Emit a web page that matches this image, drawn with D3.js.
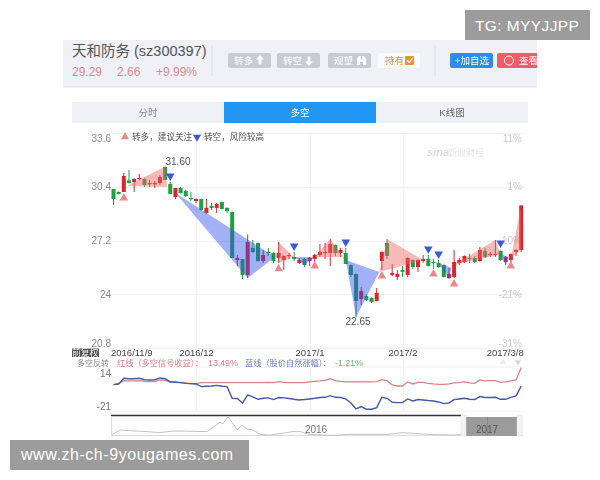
<!DOCTYPE html>
<html><head><meta charset="utf-8">
<script src="https://cdn.jsdelivr.net/npm/d3@7/dist/d3.min.js"></script>
<style>
html,body{margin:0;padding:0;background:#fff}
svg{display:block}
text{font-family:"Liberation Sans","Noto Sans CJK SC",sans-serif}
.soft{filter:blur(0.5px)}
.axis path,.axis line{display:none}
</style></head><body>
<svg id="c" width="600" height="480"></svg>
<script>
const dates=["2016/11/9","2016/12","2017/1","2017/2","2017/3/8"];
const dateIdx=[0,16,38,56,79];
const priceTicks=[33.6,30.4,27.2,24,20.8];
const pctTicks=["11%","1%","-10%","-21%","-31%"];
const open =[30.27,30.09,30.09,30.78,30.68,30.86,30.86,30.57,30.55,30.62,31.58,30.57,29.79,30.33,30.15,29.73,29.55,29.67,28.84,29.26,29.14,29.49,29.14,28.90,26.04,26.10,25.15,26.76,27.05,25.98,26.52,26.46,26.16,26.04,26.28,26.22,25.86,26.10,25.98,26.10,26.34,26.46,26.46,26.93,26.46,26.46,25.74,25.21,23.72,23.90,23.78,23.60,25.98,27.05,25.15,25.03,25.45,25.15,26.04,25.62,25.98,26.10,25.92,25.86,25.74,24.97,25.03,25.86,25.92,26.16,26.16,25.98,26.58,26.34,26.34,26.58,25.92,26.04,26.52,26.64];
const close=[29.67,29.97,31.04,30.62,30.86,30.92,30.51,30.62,30.62,30.98,30.80,29.97,30.33,30.03,29.85,29.67,29.67,29.02,29.14,29.14,29.37,29.08,28.96,26.16,26.16,25.15,27.11,26.52,25.98,26.34,26.46,25.98,26.46,26.28,26.34,26.10,26.04,25.74,26.16,26.34,26.52,26.52,26.99,26.46,26.64,25.80,25.15,23.60,24.20,23.66,23.54,24.08,26.52,26.28,25.27,25.21,25.33,26.16,25.62,26.04,26.10,25.68,25.86,25.62,25.03,25.21,25.92,26.04,26.28,26.10,25.92,26.64,26.22,26.40,26.40,26.04,26.22,26.40,26.64,29.29];
const high =[30.27,30.12,31.22,31.40,30.90,31.16,30.90,30.80,30.74,31.10,31.60,30.68,30.33,30.39,30.21,30.09,29.70,29.70,29.67,29.43,29.43,29.52,29.17,28.93,26.34,26.10,27.56,27.23,27.08,26.64,26.76,26.49,27.11,26.31,26.46,26.52,26.16,26.16,26.22,26.40,26.99,27.05,27.29,26.96,26.76,26.76,25.77,25.24,24.43,24.02,23.81,24.37,26.55,27.29,25.80,25.45,25.68,26.20,26.07,26.07,26.34,26.34,26.10,26.04,25.77,25.57,26.64,26.16,26.31,26.40,26.28,26.81,26.76,26.52,27.23,26.61,26.28,26.43,26.67,29.29];
const low  =[29.32,29.94,30.09,30.60,30.09,30.80,30.39,30.39,30.33,30.51,30.80,29.97,29.67,30.00,29.79,29.55,29.43,29.00,28.80,29.02,28.84,29.05,28.84,26.16,25.68,24.91,24.97,26.46,25.95,25.86,26.28,25.86,25.86,25.45,26.10,25.98,25.80,25.62,25.68,25.92,26.22,26.10,25.68,26.28,26.22,25.80,25.03,22.65,23.36,23.60,23.48,23.57,25.45,26.10,25.09,24.85,25.03,25.03,25.51,25.33,25.86,25.65,25.51,25.57,25.00,24.91,24.97,25.74,25.86,25.86,25.86,25.95,26.16,26.22,26.22,26.00,25.74,25.80,26.28,26.52];
const redLine=[0,1.0,3.1,2.9,2.9,3.1,2.6,2.4,2.6,3.7,3.4,2.1,2.6,1.6,1.3,0.8,0.8,1.6,1.6,1.6,1.6,1.6,1.6,1.6,1.6,1.6,1.6,1.6,1.6,1.6,1.8,1.6,2.4,1.8,1.6,1.6,1.6,1.6,2.1,2.6,2.9,3.4,4.7,3.1,2.6,2.1,2.1,2.1,2.1,2.1,2.1,2.4,3.9,3.1,-0.3,-1.1,-1.1,2.1,0.5,1.8,1.8,1.0,0.5,0.2,0.2,0.5,1.3,1.6,2.1,1.3,1.0,3.7,2.9,3.1,3.1,1.8,2.1,2.9,3.7,13.49];
const blueLine=[0,0.5,5.0,4.7,4.7,5.0,3.9,3.7,3.9,5.3,4.7,2.1,1.8,1.6,1.0,0.8,0.5,-1.6,-1.3,-1.1,-0.6,-1.3,-1.6,-10.9,-11.1,-14.8,-8.2,-9.8,-11.7,-10.9,-10.6,-11.9,-10.3,-10.6,-11.1,-11.7,-12.2,-11.9,-11.4,-10.9,-10.3,-10.1,-8.8,-10.1,-10.3,-11.4,-14.6,-19.3,-17.5,-19.6,-19.6,-18.3,-10.1,-10.9,-14.0,-14.3,-14.3,-11.4,-13.0,-11.9,-12.2,-12.7,-13.0,-13.8,-15.1,-14.6,-11.9,-11.4,-10.9,-11.7,-11.9,-9.5,-10.3,-10.3,-10.1,-11.7,-11.7,-10.1,-9.0,-1.21];
const navDay=[0,8,18,28,48,61,75,95,108,111,116,121,125,130,135,141,148,158,168,181,188,198,221,238,275,291,301,321,341,354,375,400,410];
const navVal=[5,30,27,24,17,25,24,22,68,62,97,60,30,55,35,30,8,5,12,22,22,8,3,8,8,17,13,7,5,7,6,5,8];
const pinkTriangles=[[2.6,30.45,10,31.6,10.4,30.39],[32,27.11,34.9,26.22,32,25.86],[39,26.22,42,27.29,44.5,26.22],[51.5,25.33,53,27.29,60,26.04],[66,25.74,74,27.23,75,26.4],[77,26.16,79,29.29,79,26.64]];
const blueTriangles=[[12,30.03,31.3,26.22,26,24.97],[35,26.22,39,26.22,37,25.74],[45,26.04,51.5,25.33,47,22.65],[63,25.86,65.5,25.57,65,24.97],[75,26.4,76.5,26.22,76,25.74]];
const buyIdx=[2,32,39,52,62,66,77];
const buyPrice=[29.73,25.51,25.68,25.09,25.21,24.61,25.68];
const sellIdx=[11,35,45,61,63,75];
const sellPrice=[31.04,26.87,27.11,26.70,26.40,27.05];
const peakLabels=["31.60","22.65"];
const subTicks=[14,-21];
const navYears=["2016","2017"];

const red="#d8262c",green="#1f9f45";
const svg=d3.select("#c");
const g=svg.append("g").attr("class","soft");
const x=d3.scaleLinear().domain([0,79]).range([113.5,521.2]);
const y=d3.scaleLinear().domain([20.8,33.6]).range([348,133]);
const ys=d3.scaleLinear().domain([-21,14]).range([411,367]);
const xn=d3.scaleLinear().domain([0,410]).range([112,522]);
const yn=d3.scaleLinear().domain([0,100]).range([436,416]);

function t(p,xx,yy,s,size,fill,anchor,extra){
  const e=p.append("text").attr("x",xx).attr("y",yy).text(s).attr("font-size",size).attr("fill",fill).attr("text-anchor",anchor||"start");
  if(extra)e.attr("font-weight",extra);return e;
}
// header
g.append("rect").attr("x",63).attr("y",40).attr("width",474).attr("height",47).attr("fill","#eff1f7");
g.append("line").attr("x1",63).attr("x2",537).attr("y1",87).attr("y2",87).attr("stroke","#dfe1e6");
t(g,72,56,"天和防务 (sz300397)",14.5,"#555");
t(g,72,76,"29.29",12,"#d98a8e");
t(g,117,76,"2.66",12,"#d98a8e");
t(g,156,76,"+9.99%",12,"#d98a8e");
[212,435].forEach(a=>g.append("line").attr("x1",a).attr("x2",a).attr("y1",45).attr("y2",76).attr("stroke","#dcdee4"));
[[228,"转多",1],[277,"转空",-1],[328,"观望",0]].forEach(([bx,s,dir])=>{
  g.append("rect").attr("x",bx).attr("y",53).attr("width",43).attr("height",15).attr("rx",2).attr("fill","#c8cbd3");
  t(g,bx+6,64,s,9.5,"#fff");
  const ax=bx+(dir?31:29);
  if(dir){
    const p=dir>0?`M${ax},55 l4,4.5 h-2.5 v5 h-3 v-5 h-2.5z`:`M${ax},66 l4,-4.5 h-2.5 v-5 h-3 v5 h-2.5z`;
    g.append("path").attr("d",p).attr("fill","#fff").attr("transform","translate(1,0)");
  } else {
    g.append("path").attr("d",`M${ax},65 v-6 l2,-3 h2 v3 h1 v-3 h2 l2,3 v6 h-3 v-3 h-3 v3z`).attr("fill","#fff");
  }
});
g.append("rect").attr("x",378).attr("y",53).attr("width",42).attr("height",15).attr("rx",2).attr("fill","#fbfbfd");
t(g,385,64,"持有",9.5,"#e39a2d");
g.append("rect").attr("x",405).attr("y",56).attr("width",9).attr("height",9).attr("rx",1).attr("fill","#e39a2d");
g.append("path").attr("d","M407,60 l2,2.5 l3.5,-4").attr("fill","none").attr("stroke","#fff").attr("stroke-width",1.2);
g.append("rect").attr("x",450).attr("y",53).attr("width",43).attr("height",15).attr("rx",2).attr("fill","#2a8df0");
t(g,455,64,"+加自选",9.5,"#fff");
g.append("path").attr("d","M497,55 a2,2 0 0 1 2,-2 h38 v15 h-38 a2,2 0 0 1 -2,-2z").attr("fill","#f25c66");
g.append("circle").attr("cx",509).attr("cy",60.5).attr("r",4.5).attr("fill","none").attr("stroke","#fff").attr("stroke-width",1);
t(g,519,64,"查看",9.5,"#fff");
// tabs
g.append("rect").attr("x",72).attr("y",102).attr("width",152).attr("height",21).attr("fill","#eff1f6");
g.append("rect").attr("x",224).attr("y",102).attr("width",152).attr("height",21).attr("fill","#2196f3");
g.append("rect").attr("x",376).attr("y",102).attr("width",152).attr("height",21).attr("fill","#eff1f6");
t(g,148,116,"分时",9.5,"#8a8a8a","middle");
t(g,300,116,"多空",9.5,"#fff","middle");
t(g,452,116,"K线图",9.5,"#666","middle");
// grid
const grid=g.append("g").attr("stroke","#f1f1f3").attr("stroke-width",1);
priceTicks.forEach(p=>grid.append("line").attr("x1",108).attr("x2",524).attr("y1",Math.round(y(p))+.5).attr("y2",Math.round(y(p))+.5));
dateIdx.slice(1,4).forEach(i=>grid.append("line").attr("x1",Math.round(x(i))+.5).attr("x2",Math.round(x(i))+.5).attr("y1",133).attr("y2",411));
grid.append("line").attr("x1",112).attr("x2",524).attr("y1",ys(-21)).attr("y2",ys(-21));
grid.append("line").attr("x1",112).attr("x2",524).attr("y1",ys(14)).attr("y2",ys(14));
// axes behind the marks
const shift=d=>d===priceTicks[0]?8:d===priceTicks[4]?-2:3;
const la=g.append("g").attr("class","axis").attr("transform","translate(111,0)").call(d3.axisLeft(y).tickValues(priceTicks).tickFormat(d3.format("~r")).tickSize(0).tickPadding(0));
la.selectAll("text").attr("dy",null).attr("y",d=>shift(d)).attr("font-size",10).attr("fill","#888");
const pctScale=d3.scalePoint().domain(pctTicks).range([y(33.6),y(20.8)]);
const ra=g.append("g").attr("class","axis").attr("transform","translate(522,0)").call(d3.axisLeft(pctScale).tickSize(0).tickPadding(0));
ra.selectAll("text").attr("dy",null).attr("y",d=>d===pctTicks[0]?8:d===pctTicks[4]?-2:3).attr("font-size",10).attr("fill","#c8c8c8");
// watermark
t(g,427,156,"sina",11,"#dcdcdc",null,"bold").attr("font-style","italic");
t(g,448,156,"新浪财经",9,"#e6e6e6");
// candles
const cg=g.append("g");
d3.range(open.length).forEach(i=>{
  const col=close[i]>=open[i]?red:green;
  cg.append("line").attr("x1",x(i)).attr("x2",x(i)).attr("y1",y(high[i])).attr("y2",y(low[i])).attr("stroke",col).attr("stroke-width",1);
  const a=y(Math.max(open[i],close[i])),b=y(Math.min(open[i],close[i]));
  cg.append("rect").attr("x",x(i)-2).attr("width",4).attr("y",a).attr("height",Math.max(1.2,b-a)).attr("fill",col);
});
// signal areas
const poly=d=>d3.line()([[x(d[0]),y(d[1])],[x(d[2]),y(d[3])],[x(d[4]),y(d[5])]])+"Z";
g.append("g").selectAll("path").data(pinkTriangles).join("path").attr("d",poly).attr("fill","rgba(240,100,100,.45)");
g.append("g").selectAll("path").data(blueTriangles).join("path").attr("d",poly).attr("fill","rgba(50,80,235,.45)");
// markers
const tri=d3.symbol().type(d3.symbolTriangle).size(32);
buyIdx.forEach((a,k)=>g.append("path").attr("d",tri()).attr("transform",`translate(${x(a)},${y(buyPrice[k])})`).attr("fill","#e8898a"));
sellIdx.forEach((a,k)=>g.append("path").attr("d",tri()).attr("transform",`translate(${x(a)},${y(sellPrice[k])}) rotate(180)`).attr("fill","#3c5bd0"));
t(g,178,165,peakLabels[0],10,"#555","middle");
t(g,358,325,peakLabels[1],10,"#555","middle");
const ba=g.append("g").attr("class","axis").attr("transform","translate(0,346)").call(d3.axisBottom(x).tickValues(dateIdx).tickFormat((d,i)=>dates[i]).tickSize(0).tickPadding(0));
ba.selectAll("text").attr("dy",null).attr("y",9.5).attr("font-size",9.5).attr("fill","#444")
  .attr("text-anchor",(d,i)=>i===0?"start":i===4?"end":"middle").attr("x",(d,i)=>i===0?-3:i===4?2:0);
// legend
g.append("path").attr("d",tri()).attr("transform","translate(125,137) scale(.95)").attr("fill","#e8898a");
t(g,132,140,"转多，建议关注",8.6,"#555");
g.append("path").attr("d",tri()).attr("transform","translate(197,137) rotate(180) scale(.95)").attr("fill","#3c5bd0");
t(g,204,140,"转空，风险较高",8.6,"#555");
// sub header
g.append("rect").attr("x",72).attr("y",348.5).attr("width",27).attr("height",8.5).attr("fill","#555");
t(g,72,356,"前复权",8.8,"#eee");
t(g,77,366,"多空反转",8,"#888");
t(g,117,366,"红线（多空信号收益）：",8.2,"#d97f85");
t(g,208,366,"13.49%",8.8,"#d97f85");
t(g,245,366,"蓝线（股价自然涨幅）：",8.2,"#6a7dc0");
t(g,335,366,"-1.21%",8.8,"#5db76a");
g.append("path").attr("d",tri.size(18)()).attr("transform","translate(503,362)").attr("fill","#ececec");
g.append("path").attr("d",tri.size(18)()).attr("transform","translate(518,362) rotate(180)").attr("fill","#d8d8d8");
// sub axis
const sa=g.append("g").attr("class","axis").attr("transform","translate(111,0)").call(d3.axisLeft(ys).tickValues(subTicks).tickFormat(d3.format("d")).tickSize(0).tickPadding(0));
sa.selectAll("text").text(d=>String(d)).attr("dy",null).attr("y",d=>d===14?9:-2).attr("font-size",10).attr("fill","#777");
const ln=d3.line().x((d,i)=>x(i)).y(d=>ys(d));
g.append("path").datum(redLine).attr("d",ln).attr("fill","none").attr("stroke","#d98384").attr("stroke-width",1.3);
g.append("path").datum(blueLine).attr("d",ln).attr("fill","none").attr("stroke","#4459a8").attr("stroke-width",1.4);
// navigator
g.append("line").attr("x1",111).attr("x2",461).attr("y1",415.5).attr("y2",415.5).attr("stroke","#333").attr("stroke-width",1.4);
g.append("line").attr("x1",111.5).attr("x2",111.5).attr("y1",416).attr("y2",436).attr("stroke","#ddd");
g.append("line").attr("x1",111).attr("x2",523).attr("y1",435.5).attr("y2",435.5).attr("stroke","#ddd");
g.append("path").datum(navVal).attr("d",d3.line().x((d,i)=>xn(navDay[i])).y(d=>yn(d))).attr("fill","none").attr("stroke","#bbb").attr("stroke-width",.9);
g.append("rect").attr("x",466).attr("y",417).attr("width",51).attr("height",19).attr("fill","#9b9b9b");
g.append("rect").attr("x",461).attr("y",415).attr("width",5).attr("height",21).attr("fill","#f4f4f4").attr("stroke","#ddd").attr("stroke-width",.5);
g.append("rect").attr("x",517).attr("y",415).attr("width",5).attr("height",21).attr("fill","#f4f4f4").attr("stroke","#ddd").attr("stroke-width",.5);
g.append("line").attr("x1",487.5).attr("x2",487.5).attr("y1",417).attr("y2",436).attr("stroke","#888");
t(g,316,433,navYears[0],10,"#777","middle");
t(g,487,433,navYears[1],10,"#555","middle");
// overlay banners
svg.append("rect").attr("x",465).attr("y",10).attr("width",125).attr("height",30).attr("fill","#9c9c9c");
t(svg,475,31,"TG: MYYJJPP",15.5,"#fff").attr("letter-spacing",.4);
svg.append("rect").attr("x",10).attr("y",440).attr("width",239).attr("height",30).attr("fill","#9c9c9c");
t(svg,21,460,"www.zh-ch-9yougames.com",16,"#fff").attr("letter-spacing",.55);
</script></body></html>
